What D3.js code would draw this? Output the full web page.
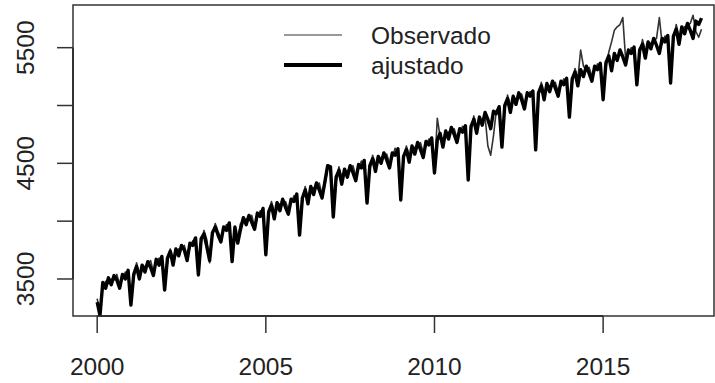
<!DOCTYPE html>
<html>
<head>
<meta charset="utf-8">
<script src="https://cdn.jsdelivr.net/npm/d3@7"></script>
<style>
  body { margin: 0; background: #fff; }
  svg text { font-family: "Liberation Sans", Arial, sans-serif; fill: #222; }
</style>
</head>
<body>
<svg id="chart" width="715" height="383"></svg>
<script>
// monthly series, Jan 2000 .. Dec 2017
const startYear = 2000;
const observado = [
  3330, 3200, 3430, 3480, 3460, 3500, 3490, 3540, 3450, 3500, 3560, 3540,
  3290, 3500, 3640, 3540, 3580, 3610, 3620, 3660, 3560, 3630, 3680, 3670,
  3420, 3640, 3760, 3680, 3720, 3760, 3760, 3790, 3700, 3770, 3830, 3840,
  3540, 3810, 3920, 3840, 3640, 3870, 3980, 3910, 3860, 3920, 3970, 3950,
  3660, 3920, 3850, 3980, 3990, 4020, 4010, 4050, 3950, 4030, 4090, 4080,
  3720, 4040, 4170, 4070, 4120, 4150, 4150, 4170, 4100, 4150, 4220, 4200,
  3890, 4160, 4300, 4200, 4260, 4290, 4300, 4330, 4230, 4310, 4460, 4450,
  4050, 4340, 4470, 4380, 4410, 4440, 4440, 4480, 4390, 4450, 4520, 4500,
  4170, 4440, 4570, 4490, 4520, 4550, 4560, 4580, 4500, 4550, 4630, 4600,
  4190, 4530, 4650, 4570, 4610, 4640, 4650, 4680, 4590, 4650, 4710, 4700,
  4430, 4890, 4730, 4690, 4740, 4770, 4780, 4800, 4720, 4770, 4820, 4800,
  4370, 4780, 4910, 4810, 4860, 4880, 4900, 4650, 4570, 4740, 4960, 4970,
  4650, 4960, 5090, 5000, 5040, 5060, 5080, 5100, 5010, 5070, 5120, 5100,
  4630, 5070, 5200, 5110, 5150, 5170, 5180, 5200, 5120, 5170, 5230, 5210,
  4910, 5190, 5320, 5230, 5480, 5340, 5310, 5330, 5250, 5300, 5360, 5340,
  5060, 5330, 5460, 5550, 5650, 5680, 5700, 5760, 5400, 5440, 5500, 5480,
  5190, 5440, 5570, 5470, 5510, 5540, 5560, 5580, 5760, 5530, 5600, 5580,
  5210, 5560, 5700, 5590, 5640, 5680, 5690, 5710, 5780, 5640, 5590, 5660
];
const ajustado = [
  3300, 3185, 3470, 3420, 3510, 3450, 3530, 3490, 3420, 3540, 3500, 3575,
  3275, 3540, 3610, 3500, 3620, 3560, 3650, 3600, 3530, 3670, 3620, 3695,
  3405, 3680, 3740, 3620, 3760, 3700, 3790, 3750, 3660, 3810, 3790, 3855,
  3535, 3850, 3890, 3780, 3660, 3900, 3950, 3880, 3820, 3950, 3920, 3985,
  3650, 3950, 3810, 3930, 4030, 3970, 4050, 3990, 3930, 4070, 4040, 4110,
  3710, 4080, 4140, 4020, 4160, 4090, 4190, 4120, 4060, 4190, 4170, 4235,
  3880, 4200, 4270, 4150, 4300, 4230, 4330, 4270, 4200, 4340, 4480, 4470,
  4036, 4380, 4440, 4320, 4450, 4380, 4480, 4420, 4350, 4490, 4460, 4525,
  4157, 4480, 4540, 4430, 4560, 4500, 4590, 4530, 4460, 4590, 4570, 4625,
  4183, 4560, 4620, 4510, 4650, 4580, 4680, 4620, 4550, 4690, 4660, 4720,
  4417, 4700, 4760, 4640, 4780, 4710, 4810, 4750, 4680, 4800, 4770, 4825,
  4356, 4820, 4880, 4760, 4900, 4830, 4940, 4880, 4800, 4950, 4930, 4990,
  4641, 5000, 5060, 4940, 5080, 5010, 5110, 5050, 4970, 5110, 5080, 5125,
  4616, 5110, 5170, 5050, 5190, 5120, 5210, 5150, 5080, 5210, 5180, 5235,
  4900, 5230, 5290, 5170, 5310, 5250, 5340, 5280, 5210, 5340, 5310, 5365,
  5050, 5370, 5430, 5300, 5450, 5390, 5480, 5420, 5350, 5480, 5450, 5505,
  5178, 5480, 5530, 5410, 5550, 5490, 5580, 5520, 5450, 5580, 5550, 5605,
  5195, 5600, 5660, 5530, 5680, 5620, 5710, 5650, 5580, 5730, 5700, 5755
];
const xTicks = [2000, 2005, 2010, 2015];
const yTicks = [3500, 4000, 4500, 5000, 5500];
const yLabels = [3500, 4500, 5500];
const legendNames = ["Observado", "ajustado"];

const plotLeft = 73, plotRight = 714, plotTop = 5, plotBottom = 316;

const svg = d3.select("#chart");

const x = d3.scaleLinear()
    .domain([1999.283, 2018.634])
    .range([plotLeft, 725.7]);

const y = d3.scaleLinear()
    .domain([3180, 5869])
    .range([plotBottom, plotTop]);

const t = i => startYear + i / 12;

const line = d3.line()
    .x((d, i) => x(t(i)))
    .y(d => y(d));

svg.append("defs").append("clipPath")
    .attr("id", "plotclip")
  .append("rect")
    .attr("x", plotLeft).attr("y", plotTop)
    .attr("width", plotRight - plotLeft).attr("height", plotBottom - plotTop);

const plot = svg.append("g").attr("clip-path", "url(#plotclip)");

plot.append("path")
    .datum(observado)
    .attr("fill", "none")
    .attr("stroke", "#333")
    .attr("stroke-width", 1.6)
    .attr("stroke-linejoin", "round")
    .attr("d", line);

plot.append("path")
    .datum(ajustado)
    .attr("fill", "none")
    .attr("stroke", "#000")
    .attr("stroke-width", 3.4)
    .attr("stroke-linejoin", "round")
    .attr("d", line);

// box
svg.append("rect")
    .attr("x", plotLeft).attr("y", plotTop)
    .attr("width", plotRight - plotLeft).attr("height", plotBottom - plotTop)
    .attr("fill", "none")
    .attr("stroke", "#333")
    .attr("stroke-width", 1.5);

// x axis
const xAxis = svg.append("g");
xAxis.append("line")
    .attr("x1", x(xTicks[0])).attr("x2", x(xTicks[xTicks.length - 1]))
    .attr("y1", plotBottom).attr("y2", plotBottom)
    .attr("stroke", "#222").attr("stroke-width", 1.5);
xAxis.selectAll(".tick")
    .data(xTicks)
  .enter().append("line")
    .attr("x1", d => x(d)).attr("x2", d => x(d))
    .attr("y1", plotBottom).attr("y2", plotBottom + 17)
    .attr("stroke", "#333").attr("stroke-width", 1.5);
xAxis.selectAll(".lab")
    .data(xTicks)
  .enter().append("text")
    .attr("x", d => x(d))
    .attr("y", 375)
    .attr("text-anchor", "middle")
    .attr("font-size", 24.5)
    .text(d => d);

// y axis
const yAxis = svg.append("g");
yAxis.append("line")
    .attr("x1", plotLeft).attr("x2", plotLeft)
    .attr("y1", y(yTicks[0])).attr("y2", y(yTicks[yTicks.length - 1]))
    .attr("stroke", "#222").attr("stroke-width", 1.5);
yAxis.selectAll(".tick")
    .data(yTicks)
  .enter().append("line")
    .attr("x1", plotLeft - 16).attr("x2", plotLeft)
    .attr("y1", d => y(d)).attr("y2", d => y(d))
    .attr("stroke", "#333").attr("stroke-width", 1.5);
yAxis.selectAll(".lab")
    .data(yLabels)
  .enter().append("text")
    .attr("transform", d => `translate(34,${y(d)}) rotate(-90)`)
    .attr("text-anchor", "middle")
    .attr("font-size", 24.5)
    .text(d => d);

// legend
const legend = svg.append("g");
const legendY = [35, 65];
legend.selectAll("line")
    .data(legendNames)
  .enter().append("line")
    .attr("x1", 284).attr("x2", 342)
    .attr("y1", (d, i) => legendY[i]).attr("y2", (d, i) => legendY[i])
    .attr("stroke", (d, i) => i === 0 ? "#777" : "#000")
    .attr("stroke-width", (d, i) => i === 0 ? 1.6 : 4);
legend.selectAll("text")
    .data(legendNames)
  .enter().append("text")
    .attr("x", 371)
    .attr("y", (d, i) => legendY[i] + 9)
    .attr("font-size", 24.5)
    .text(d => d);
</script>
</body>
</html>
